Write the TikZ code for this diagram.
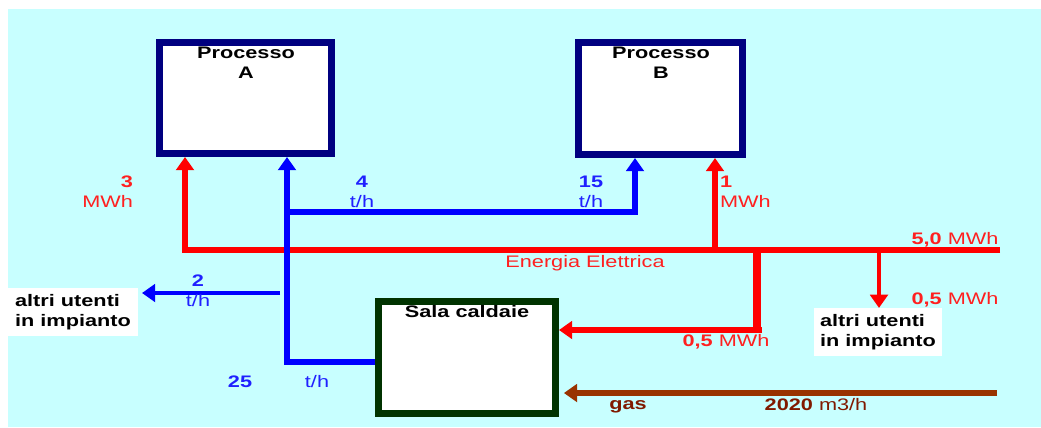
\documentclass[tikz,border=0pt]{standalone}
\usepackage{fontspec}
\setmainfont{Liberation Sans}[FakeStretch=1.3]
\usetikzlibrary{arrows.meta,calc}

\definecolor{sfondo}{HTML}{C8FFFF}
\definecolor{blunotte}{HTML}{000080}
\definecolor{verdescuro}{HTML}{003300}
\definecolor{marrone}{HTML}{993300}
\definecolor{testomarrone}{HTML}{801A00}
\definecolor{testorosso}{HTML}{FF2020}
\definecolor{testoblu}{HTML}{2020FF}

\begin{document}
\begin{tikzpicture}[
    % Stili dei riquadri (processi e sala caldaie)
    processo/.style={draw=blunotte, fill=white, line width=4pt,
        minimum width=3.44cm, minimum height=2.22cm},
    caldaie/.style={draw=verdescuro, fill=white, line width=4pt,
        minimum width=3.54cm, minimum height=2.24cm},
    utenti/.style={fill=white, minimum width=2.6cm, minimum height=0.8cm,
        align=left, font=\fontsize{9.5}{11.5}\selectfont\bfseries},
    % Stili delle linee di flusso
    freccia/.style={-{Triangle[width=10pt,length=7.5pt]}},
    rosso/.style={red, line width=3.2pt},
    blu/.style={blue, line width=3.4pt},
    % Stili delle scritte
    testo/.style={font=\fontsize{9.5}{11.5}\selectfont, inner sep=1pt},
    trosso/.style={testo, testorosso},
    tblu/.style={testo, testoblu}
,x=0.02cm, y=-0.02cm]

    % Sfondo e dimensioni del disegno
    \useasboundingbox (0,0) rectangle (1041,427);
    \fill[sfondo] (8,9) rectangle (1041,427);

    % Riquadri
    \node[processo] (pA) at (245.5,98) {};
    \node[processo, minimum width=3.28cm, minimum height=2.24cm] (pB) at (660.5,98.5) {};
    \node[caldaie] (sala) at (467,357.5) {};
    \node[testo, font=\fontsize{9.5}{11.5}\selectfont\bfseries, align=center] (tA) at (246,62.5) {Processo\\A};
    \node[testo, font=\fontsize{9.5}{11.5}\selectfont\bfseries, align=center] (tB) at (661,62.5) {Processo\\B};
    \node[testo, font=\fontsize{9.5}{11.5}\selectfont\bfseries] (tS) at (467,312) {Sala caldaie};

    % Altri utenti (riquadri bianchi senza bordo)
    \node[utenti] (altriA) at (73,312) {altri utenti\\in impianto};
    \node[utenti, minimum width=2.56cm] (altriB) at (878,332) {altri utenti\\in impianto};

    % Punti di diramazione
    \coordinate (eIn) at (1000,250);
    \coordinate (eA) at (185,250);
    \coordinate (eB) at (715,250);
    \coordinate (eC) at (757,250);
    \coordinate (eC2) at (757,330);
    \coordinate (eD) at (879,250);
    \coordinate (vA) at (287,362);
    \coordinate (vB) at (287,212);
    \coordinate (vB2) at (635,212);
    \coordinate (vC) at (280,293);
    \coordinate (vC2) at (142,293);
    \coordinate (gIn) at (997,393);

    % Energia elettrica (rosso)
    \draw[rosso, freccia] (eIn) -- (eA) -- (eA |- pA.south);
    \draw[rosso, freccia] (eB) -- (eB |- pB.south);
    \draw[rosso, freccia, line width=2.8pt] (eD) -- (eD |- altriB.north);
    \draw[red, line width=5.1pt] (eC) -- (eC2);
    \draw[rosso, freccia] ($(eC2)+(4.5,0)$) -- (sala.east |- eC2);

    % Vapore (blu)
    \draw[blu, freccia] (sala.west |- vA) -- (vA) -- (vA |- pA.south);
    \draw[blu, freccia] (vB) -- (vB2) -- (vB2 |- pB.south);
    \draw[blu, freccia, line width=2.6pt] (vC) -- (vC2);

    % Gas (marrone)
    \draw[marrone, line width=3.4pt, freccia, shorten >=2.8pt] (gIn) -- (sala.east |- gIn);

    % Etichette rosse
    \node[trosso, anchor=east, align=right] (l3) at (135,192) {{\bfseries 3}\\MWh};
    \node[trosso, anchor=west, align=left] (l1) at (718,192) {{\bfseries 1}\\MWh};
    \node[trosso] (lEE) at (585,263) {Energia Elettrica};
    \node[trosso] (l50) at (955,240) {{\bfseries 5,0} MWh};
    \node[trosso] (l05a) at (955,300) {{\bfseries 0,5} MWh};
    \node[trosso] (l05b) at (726,342) {{\bfseries 0,5} MWh};

    % Etichette blu
    \node[tblu, align=center] (l4) at (362,192) {{\bfseries 4}\\t/h};
    \node[tblu, align=center] (l15) at (591,192) {{\bfseries 15}\\t/h};
    \node[tblu, align=center] (l2) at (198,291) {{\bfseries 2}\\t/h};
    \node[tblu, font=\fontsize{9.5}{11.5}\selectfont\bfseries] (l25) at (240,382) {25};
    \node[tblu] (l25b) at (317,382) {t/h};

    % Etichette del gas
    \node[testo, testomarrone, font=\fontsize{9.5}{11.5}\selectfont\bfseries] (lgas) at (628,407) {gas};
    \node[testo, testomarrone] (l2020) at (816,405) {{\bfseries 2020} m3/h};
\end{tikzpicture}
\end{document}
